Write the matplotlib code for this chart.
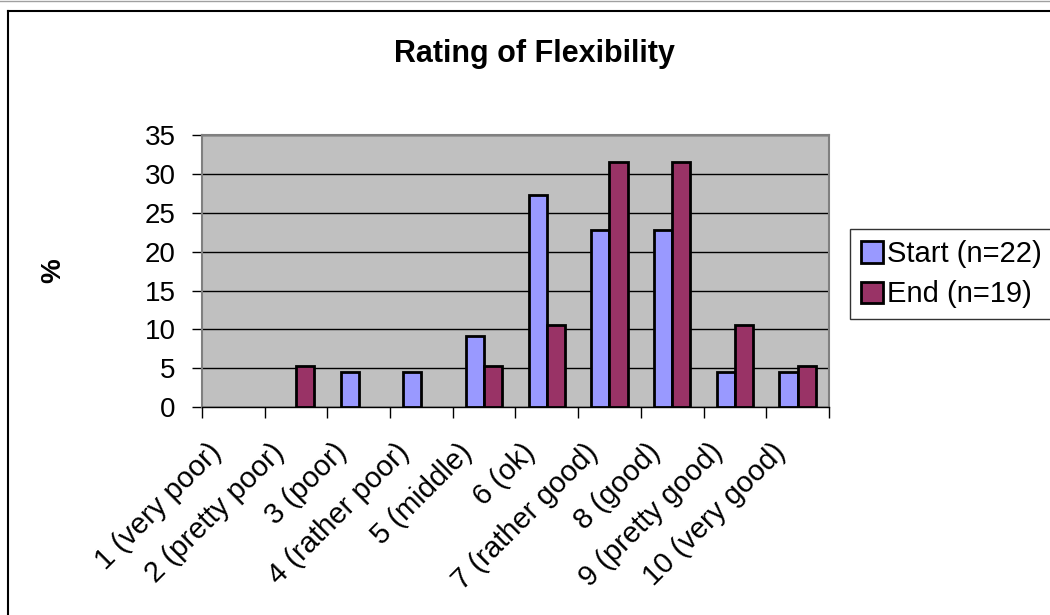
import matplotlib.pyplot as plt
from matplotlib.lines import Line2D
from matplotlib.patches import Patch
import matplotlib.transforms as mtransforms
import numpy as np

plt.rcParams['font.family'] = ['Liberation Sans', 'DejaVu Sans']

categories = ['1 (very poor)', '2 (pretty poor)', '3 (poor)', '4 (rather poor)',
              '5 (middle)', '6 (ok)', '7 (rather good)', '8 (good)',
              '9 (pretty good)', '10 (very good)']
start = [0, 0, 4.55, 4.55, 9.09, 27.27, 22.73, 22.73, 4.55, 4.55]
end = [0, 5.26, 0, 0, 5.26, 10.53, 31.58, 31.58, 10.53, 5.26]
series = ['Start (n=22)', 'End (n=19)']
colors = ['#9999FF', '#993366']

fig = plt.figure(figsize=(10.5, 6.15), dpi=100)
ax = fig.add_axes([0.1924, 0.338, 0.597, 0.4423])

x = np.arange(len(categories))
w = 0.29
b1 = ax.bar(x - w / 2, start, w, color=colors[0], edgecolor='black', linewidth=2, zorder=3)
b2 = ax.bar(x + w / 2, end, w, color=colors[1], edgecolor='black', linewidth=2, zorder=3)
# empty categories get no outline
for bars in (b1, b2):
    for rect in bars:
        if rect.get_height() == 0:
            rect.set_visible(False)

ax.set_facecolor('#C0C0C0')
ax.set_xlim(-0.5, len(categories) - 0.5)
ax.set_ylim(0, 35)
ax.set_yticks(range(0, 36, 5))
ax.yaxis.grid(True, color='black', linewidth=1, zorder=1)
ax.set_axisbelow(True)

# ticks on category boundaries, labels under the centres
ax.set_xticks(np.arange(-0.5, len(categories)))
ax.set_xticklabels([])
ax.set_xticks(x, minor=True)
ax.set_xticklabels(categories, minor=True, rotation=45, ha='right', va='top',
                   rotation_mode='anchor', fontsize=21)
ax.tick_params(axis='x', which='major', length=8, width=1, direction='out', color='black')
ax.tick_params(axis='x', which='minor', length=0, pad=0)
ax.tick_params(axis='y', length=7, width=1, color='black', labelsize=20, pad=12)
shift = mtransforms.ScaledTranslation(-0.26, -0.31, fig.dpi_scale_trans)
for lab in ax.get_xticklabels(minor=True):
    lab.set_transform(lab.get_transform() + shift)

for side in ['top', 'right', 'left']:
    ax.spines[side].set_color('#808080')
    ax.spines[side].set_linewidth(1.5)
ax.spines['bottom'].set_color('black')
ax.spines['bottom'].set_linewidth(1)

fig.text(0.509, 0.913, 'Rating of Flexibility', ha='center', va='center',
         fontsize=22, fontweight='bold')
fig.text(0.051, 0.56, '%', ha='center', va='center', rotation=90,
         fontsize=20, fontweight='bold')

handles = [Patch(facecolor=c, edgecolor='black', linewidth=2) for c in colors]
leg = fig.legend(handles, series, loc='upper left', bbox_to_anchor=(0.8095, 0.6276),
                 fontsize=21, frameon=True, fancybox=False, edgecolor='black',
                 handlelength=0.75, handleheight=0.75, handletextpad=0.15,
                 borderpad=0.38, labelspacing=0.42, borderaxespad=0)
leg.get_frame().set_linewidth(1)

# chart area frame: left and top edges
fig.add_artist(Line2D([8 / 1050, 8 / 1050], [0, 1 - 11 / 615], color='black',
                      linewidth=1.5, transform=fig.transFigure))
fig.add_artist(Line2D([8 / 1050, 1], [1 - 11 / 615, 1 - 11 / 615], color='black',
                      linewidth=1.5, transform=fig.transFigure))
fig.add_artist(Line2D([0, 1], [0.999, 0.999], color='#A0A0A0',
                      linewidth=1, transform=fig.transFigure))

fig.savefig('out.png', dpi=100)
